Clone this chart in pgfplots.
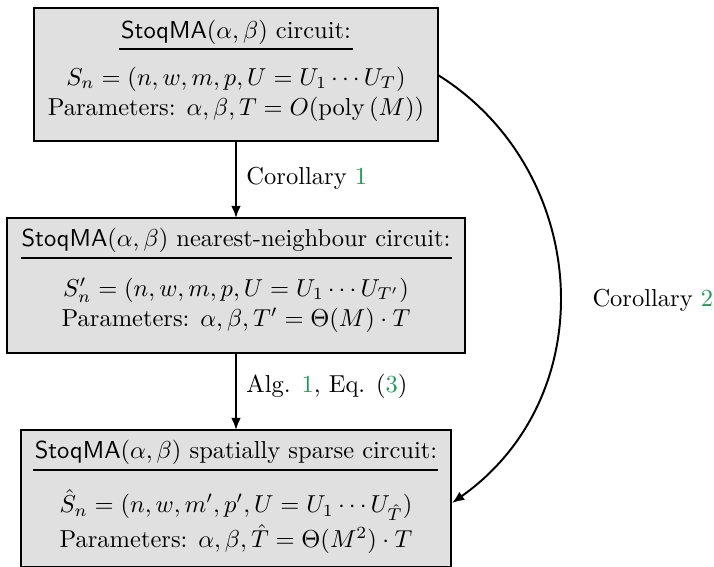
\documentclass[border=0pt]{standalone}
\usepackage{pgfplots}
\pgfplotsset{compat=1.18}
\usetikzlibrary{arrows.meta}
\definecolor{linkgreen}{RGB}{30,155,85}
\definecolor{boxgray}{RGB}{224,224,224}
\newcommand{\lnk}[1]{\textcolor{linkgreen}{#1}}
\begin{document}
\begin{tikzpicture}
\begin{axis}[
  scale only axis, width=291.4pt, height=231.4pt,
  xmin=0, xmax=714, ymin=0, ymax=567, y dir=reverse,
  hide axis, clip=false]
\tikzset{every node/.append style={inner sep=0pt}}
% Box 1
\draw[thick, fill=boxgray] (axis cs:34,8) rectangle (axis cs:438,141);
\node at (axis cs:236,32) {\textsf{StoqMA}$(\alpha,\beta)$ circuit:};
\draw[line width=1.1pt] (axis cs:119,49) -- (axis cs:353,49);
\node at (axis cs:236,79) {$S_n = (n,w,m,p,U=U_1\cdots U_T)$};
\node at (axis cs:236,109) {Parameters: $\alpha,\beta,T=O(\mathrm{poly}\,(M))$};
% Box 2
\draw[thick, fill=boxgray] (axis cs:7,218) rectangle (axis cs:465,353);
\node at (axis cs:236,240) {\textsf{StoqMA}$(\alpha,\beta)$ nearest-neighbour circuit:};
\draw[line width=1.1pt] (axis cs:21,258) -- (axis cs:452,258);
\node at (axis cs:236,290) {$S_n' = (n,w,m,p,U=U_1\cdots U_{T'})$};
\node at (axis cs:236,320) {Parameters: $\alpha,\beta,T'=\Theta(M)\cdot T$};
% Box 3
\draw[thick, fill=boxgray] (axis cs:21,430) rectangle (axis cs:451,567);
\node at (axis cs:236,452) {\textsf{StoqMA}$(\alpha,\beta)$ spatially sparse circuit:};
\draw[line width=1.1pt] (axis cs:33,470) -- (axis cs:438,470);
\node at (axis cs:236,505) {$\hat S_n = (n,w,m',p',U=U_1\cdots U_{\hat T})$};
\node at (axis cs:236,539) {Parameters: $\alpha,\beta,\hat T=\Theta(M^2)\cdot T$};
% Arrows
\draw[thick, -{Latex[length=5pt,width=4pt]}] (axis cs:236,141) -- (axis cs:236,218);
\node[anchor=west] at (axis cs:246,178) {Corollary \lnk{1}};
\draw[thick, -{Latex[length=5pt,width=4pt]}] (axis cs:236,353) -- (axis cs:236,430);
\node[anchor=west] at (axis cs:246,386) {Alg. \lnk{1}, Eq. (\lnk{3})};
\draw[thick, -{Latex[length=5pt,width=4pt]}] (axis cs:438,75) .. controls (axis cs:590,170) and (axis cs:605,395) .. (axis cs:452,503);
\node[anchor=west] at (axis cs:592,300) {Corollary \lnk{2}};
\end{axis}
\pgfresetboundingbox
\path (0,0) rectangle (291.4pt,231.4pt);
\end{tikzpicture}
\end{document}
